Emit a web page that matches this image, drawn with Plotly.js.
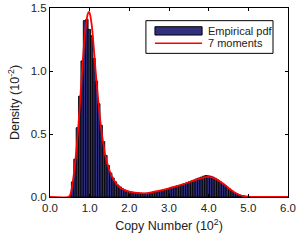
<!DOCTYPE html>
<html>
<head>
<meta charset="utf-8">
<script src="https://cdn.plot.ly/plotly-3.0.1.min.js"></script>
<style>html,body{margin:0;padding:0;background:#fff;}#chart{width:298px;height:240px;}</style>
</head>
<body>
<div id="chart"></div>
<script>
// Histogram (empirical pdf): bin centers and heights
const binCenters = [0.51,0.57,0.63,0.69,0.75,0.81,0.87,0.93,0.99,1.05,1.11,1.17,1.23,1.29,1.35,1.41,1.47,1.53,1.59,1.65,1.71,1.77,1.83,1.89,1.95,2.01,2.07,2.13,2.19,2.25,2.31,2.37,2.43,2.49,2.55,2.61,2.67,2.73,2.79,2.85,2.91,2.97,3.03,3.09,3.15,3.21,3.27,3.33,3.39,3.45,3.51,3.57,3.63,3.69,3.75,3.81,3.87,3.93,3.99,4.05,4.11,4.17,4.23,4.29,4.35,4.41,4.47,4.53,4.59,4.65,4.71,4.77,4.83,4.89,4.95,5.01,5.07];
const binHeights = [0.01,0.12,0.30,0.55,0.80,1.08,1.40,1.41,1.33,1.28,1.10,0.92,0.74,0.57,0.44,0.33,0.25,0.19,0.15,0.12,0.095,0.08,0.065,0.055,0.048,0.042,0.038,0.034,0.032,0.030,0.029,0.029,0.030,0.031,0.034,0.036,0.040,0.045,0.050,0.055,0.060,0.066,0.072,0.077,0.082,0.088,0.094,0.100,0.106,0.113,0.120,0.127,0.134,0.143,0.150,0.157,0.165,0.170,0.168,0.165,0.158,0.148,0.135,0.122,0.108,0.094,0.078,0.062,0.048,0.036,0.026,0.017,0.011,0.007,0.004,0.002,0.001];
const binWidth = 0.06;

// 7-moment fit curve
const fitX = [0.0,0.45,0.5,0.55,0.6,0.65,0.7,0.75,0.8,0.85,0.9,0.95,0.98,1.0,1.05,1.1,1.15,1.2,1.25,1.3,1.35,1.4,1.45,1.5,1.6,1.7,1.8,1.9,2.0,2.2,2.4,2.6,2.8,3.0,3.2,3.4,3.6,3.8,3.9,4.0,4.1,4.2,4.3,4.4,4.5,4.6,4.7,4.8,4.9,5.0,5.2,5.5,6.0];
const fitY = [0,0,0.01,0.07,0.18,0.32,0.5,0.72,0.96,1.18,1.35,1.45,1.47,1.46,1.37,1.2,1.0,0.82,0.66,0.52,0.41,0.32,0.26,0.21,0.14,0.095,0.068,0.052,0.042,0.032,0.029,0.04,0.053,0.068,0.086,0.105,0.128,0.148,0.157,0.16,0.153,0.14,0.12,0.098,0.072,0.048,0.028,0.014,0.006,0.002,0,0,0];

const xTicks = [0,1,2,3,4,5,6];
const yTicks = [0,0.5,1.0,1.5];
const legendLabels = ['Empirical pdf','7 moments'];

const FONT = 'Liberation Sans, Arial, sans-serif';
const barFill = '#30307e';

const traces = [
  {type:'bar', x:binCenters, y:binHeights, width:binWidth,
   marker:{color:barFill, line:{color:'#000', width:0.9}}, showlegend:false, hoverinfo:'skip'},
  {type:'scatter', mode:'lines', x:fitX, y:fitY,
   line:{color:'#ff0000', width:1.8, shape:'spline', smoothing:0.8}, showlegend:false, hoverinfo:'skip'}
];

const layout = {
  width:298, height:240,
  margin:{l:50, r:10, t:8, b:43},
  paper_bgcolor:'#fff', plot_bgcolor:'#fff',
  font:{family:FONT, size:11, color:'#222'},
  bargap:0,
  showlegend:false,
  xaxis:{range:[0,6], tickvals:xTicks, ticktext:xTicks.map(v=>v.toFixed(1)),
    ticks:'inside', ticklen:3, tickcolor:'#000', mirror:'ticks', showline:true, linecolor:'#000', linewidth:1,
    showgrid:false, zeroline:false, tickfont:{size:11.5, family:FONT, color:'#222'},
    title:{text:'Copy Number (10<sup>2</sup>)', font:{size:12.5, family:FONT, color:'#222'}, standoff:8}},
  yaxis:{range:[0,1.5], tickvals:yTicks, ticktext:yTicks.map(v=>v.toFixed(1)),
    ticks:'inside', ticklen:3, tickcolor:'#000', mirror:'ticks', showline:true, linecolor:'#000', linewidth:1,
    showgrid:false, zeroline:false, tickfont:{size:11.5, family:FONT, color:'#222'},
    title:{text:'Density (10<sup>-2</sup>)', font:{size:12.5, family:FONT, color:'#222'}, standoff:8}},
  shapes:[
    {type:'rect', xref:'paper', yref:'paper', x0:0.403, x1:0.937, y0:0.760, y1:0.933,
     line:{color:'#000', width:1}, fillcolor:'#fff', layer:'above'},
    {type:'rect', xref:'paper', yref:'paper', x0:0.441, x1:0.639, y0:0.857, y1:0.901,
     line:{color:'#000', width:1}, fillcolor:barFill, layer:'above'},
    {type:'line', xref:'paper', yref:'paper', x0:0.441, x1:0.639, y0:0.813, y1:0.813,
     line:{color:'#ff0000', width:1.5}, layer:'above'}
  ],
  annotations:[
    {xref:'paper', yref:'paper', x:0.655, y:0.879, xanchor:'left', yanchor:'middle', showarrow:false,
     text:legendLabels[0], font:{size:11, family:FONT, color:'#222'}},
    {xref:'paper', yref:'paper', x:0.655, y:0.813, xanchor:'left', yanchor:'middle', showarrow:false,
     text:legendLabels[1], font:{size:11, family:FONT, color:'#222'}}
  ]
};

Plotly.newPlot('chart', traces, layout, {staticPlot:true, displayModeBar:false});
</script>
</body>
</html>
